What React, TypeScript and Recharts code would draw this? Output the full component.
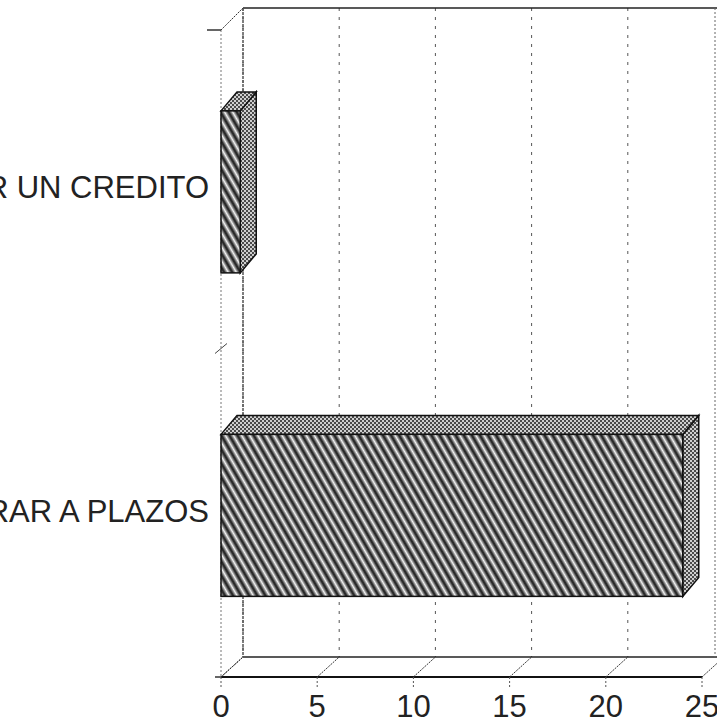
import { BarChart, Bar, XAxis, YAxis, CartesianGrid } from "recharts";

// categories (left labels are cut off by the picture edge in the original scan)
const categories = ["PEDIR UN CREDITO", "COMPRAR A PLAZOS"];
const values = [1, 24];
const xTicks = [0, 5, 10, 15, 20, 25];
const xMax = 25;

const data = categories.map((name, i) => ({ name, value: values[i] }));

const W = 717;
const H = 725;
const LEFT = 221;
const RIGHT = 702;
const TOP = 30;
const BOTTOM = 677;
// depth of the 3d box
const DX = 22;
const DY = -20;
// depth of the bars
const BDX = 16;
const BDY = -19;

const FONT = "'Liberation Sans', Arial, sans-serif";

function Frame() {
  const mid = (TOP + BOTTOM) / 2;
  return (
    <g>
      {/* back wall top + floor back line */}
      <line x1={LEFT + DX} y1={TOP + DY - 2} x2={W} y2={TOP + DY - 2} stroke="#222" strokeWidth={1.5} />
      <line x1={LEFT + DX} y1={BOTTOM + DY} x2={W} y2={BOTTOM + DY} stroke="#222" strokeWidth={1.5} />
      {/* left wall */}
      <line x1={LEFT + DX} y1={TOP + DY - 2} x2={LEFT + DX} y2={BOTTOM + DY} stroke="#555" strokeWidth={1.5} strokeDasharray="3 1" />
      <line x1={LEFT} y1={TOP} x2={LEFT} y2={BOTTOM} stroke="#777" strokeWidth={1} strokeDasharray="2 2" />
      <line x1={LEFT} y1={TOP} x2={LEFT + DX} y2={TOP + DY - 2} stroke="#333" strokeWidth={1} strokeDasharray="2 1" />
      <line x1={LEFT} y1={BOTTOM} x2={LEFT + DX} y2={BOTTOM + DY} stroke="#333" strokeWidth={1} strokeDasharray="2 1" />
      {/* category boundary ticks */}
      <line x1={LEFT - 14} y1={TOP} x2={LEFT} y2={TOP} stroke="#333" strokeWidth={1.5} />
      <line x1={LEFT - 6} y1={mid} x2={LEFT + 6} y2={mid - 10} stroke="#444" strokeWidth={1} />
      <line x1={LEFT - 6} y1={BOTTOM} x2={LEFT} y2={BOTTOM} stroke="#333" strokeWidth={1.5} />
      {/* right edge of back wall */}
      <line x1={W - 2} y1={TOP + DY - 2} x2={W - 2} y2={BOTTOM + DY} stroke="#666" strokeWidth={1} strokeDasharray="2 2" />
    </g>
  );
}

function XTick(props: any) {
  const { x, y, payload } = props;
  return (
    <g>
      <line x1={x} y1={y} x2={x + DX} y2={y + DY} stroke="#333" strokeWidth={1} strokeDasharray="2 1" />
      <line x1={x} y1={y} x2={x} y2={y + 12} stroke="#555" strokeWidth={1} strokeDasharray="2 2" />
      <text x={x} y={y + 40} textAnchor="middle" fontFamily={FONT} fontSize={31} fill="#222">
        {payload.value}
      </text>
    </g>
  );
}

function YTick(props: any) {
  const { x, y, payload } = props;
  return (
    <text x={x - 12} y={y - 4} textAnchor="end" dominantBaseline="central" fontFamily={FONT} fontSize={31} fill="#222">
      {payload.value}
    </text>
  );
}

function Bar3D(props: any) {
  const { x, y, width, height } = props;
  if (!width || !height) return null;
  const top = `${x},${y} ${x + BDX},${y + BDY} ${x + width + BDX},${y + BDY} ${x + width},${y}`;
  const side = `${x + width},${y} ${x + width + BDX},${y + BDY} ${x + width + BDX},${y + height + BDY} ${x + width},${y + height}`;
  return (
    <g>
      <polygon points={side} fill="url(#dither)" stroke="#111" strokeWidth={1.5} />
      <polygon points={top} fill="url(#dither)" stroke="#111" strokeWidth={1.5} />
      <rect x={x} y={y} width={width} height={height} fill="url(#hatch)" stroke="#111" strokeWidth={1.5} />
    </g>
  );
}

// back-wall grid: the axis tick positions pushed back by the box depth
const backGrid = ({ xAxis, offset }: any) => {
  const sc = xAxis && xAxis.scale;
  if (typeof sc === "function") {
    const out = xTicks.map((t) => Number(sc(t)) + DX);
    if (out.every((v) => Number.isFinite(v))) return out;
  }
  if (sc && typeof sc.map === "function") {
    const out = xTicks.map((t) => Number(sc.map(t)) + DX);
    if (out.every((v) => Number.isFinite(v))) return out;
  }
  const left = offset?.left ?? LEFT;
  const w = offset?.width ?? RIGHT - LEFT;
  return xTicks.map((t) => left + (t / xMax) * w + DX);
};

export default function App() {
  return (
    <div style={{ position: "absolute", left: 0, top: 0, width: W, height: H, overflow: "hidden", background: "#fff" }}>
      <BarChart
        width={W}
        height={H}
        data={data}
        layout="vertical"
        margin={{ top: TOP, right: W - RIGHT, left: 0, bottom: 0 }}
        barCategoryGap="25%"
      >
        <defs>
          <pattern id="hatch" width="7" height="7" patternUnits="userSpaceOnUse" patternTransform="rotate(-30)">
            <rect width="7" height="7" fill="#a8a8a8" />
            <line x1="2" y1="0" x2="2" y2="7" stroke="#2a2a2a" strokeWidth="3" />
            <line x1="5.5" y1="0" x2="5.5" y2="7" stroke="#f4f4f4" strokeWidth="1" />
          </pattern>
          <pattern id="dither" width="4" height="4" patternUnits="userSpaceOnUse">
            <rect width="4" height="4" fill="#cfcfcf" />
            <rect x="0" y="0" width="2" height="2" fill="#4a4a4a" />
            <rect x="2" y="2" width="2" height="2" fill="#4a4a4a" />
          </pattern>
        </defs>
        <Frame />
        <CartesianGrid
          horizontal={false}
          x={LEFT + DX}
          y={TOP + DY - 2}
          width={W - LEFT - DX}
          height={BOTTOM - TOP + 2}
          verticalCoordinatesGenerator={backGrid}
          stroke="#555"
          strokeDasharray="3 6"
        />
        <XAxis
          type="number"
          domain={[0, xMax]}
          ticks={xTicks}
          height={H - BOTTOM}
          tickSize={0}
          tickMargin={0}
          tickLine={false}
          axisLine={{ stroke: "#111", strokeWidth: 2 }}
          tick={<XTick />}
          interval={0}
        />
        <YAxis
          type="category"
          dataKey="name"
          width={LEFT}
          tickSize={0}
          tickMargin={0}
          tickLine={false}
          axisLine={false}
          tick={<YTick />}
        />
        <Bar dataKey="value" shape={<Bar3D />} isAnimationActive={false} />
      </BarChart>
    </div>
  );
}
